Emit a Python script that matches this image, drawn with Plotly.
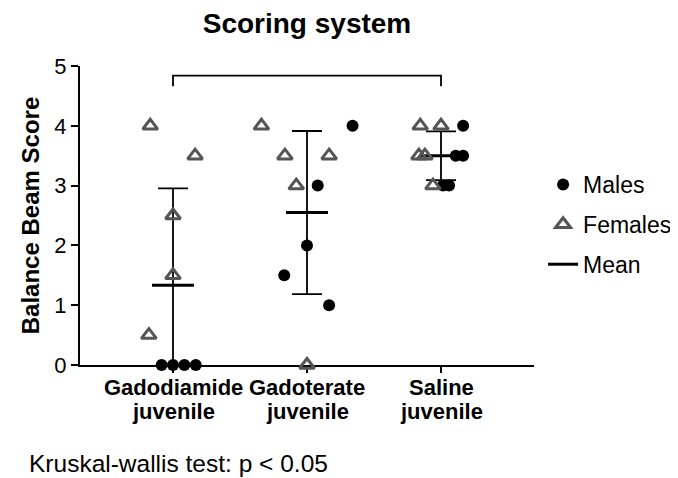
import numpy as np
import plotly.graph_objects as go

# ---- data ----
categories = ["Gadodiamide juvenile", "Gadoterate juvenile", "Saline juvenile"]
male_scores = [[0, 0, 0, 0], [4, 3, 2, 1.5, 1], [4, 3.5, 3.5, 3, 3]]
female_scores = [[4, 3.5, 2.5, 1.5, 0.5], [4, 3.5, 3.5, 3, 0], [4, 4, 3.5, 3.5, 3]]
# horizontal scatter offsets (as in the original scatter-dot plot)
male_jitter = [[-0.085, 0, 0.085, 0.17], [0.34, 0.08, 0, -0.17, 0.165], [0.165, 0.11, 0.165, 0.015, 0.06]]
female_jitter = [[-0.17, 0.165, 0, 0, -0.18], [-0.34, -0.165, 0.165, -0.08, 0], [-0.155, 0, -0.165, -0.12, -0.06]]
y_ticks = [0, 1, 2, 3, 4, 5]

pos = list(range(len(categories)))

mx, my, fx, fy = [], [], [], []
for i in pos:
    mx += [i + j for j in male_jitter[i]]
    my += male_scores[i]
    fx += [i + j for j in female_jitter[i]]
    fy += female_scores[i]

means, sds = [], []
for i in pos:
    vals = np.array(male_scores[i] + female_scores[i], dtype=float)
    means.append(vals.mean())
    sds.append(vals.std(ddof=1))

fig = go.Figure()

# SD error bars + mean line
fig.add_trace(go.Scatter(
    x=pos, y=means, mode="markers", showlegend=False, cliponaxis=True,
    marker=dict(symbol="line-ew", size=30, line=dict(width=3, color="black"), color="black"),
    error_y=dict(type="data", array=sds, visible=True, color="black", thickness=1.8, width=15),
    hoverinfo="skip",
))

fig.add_trace(go.Scatter(
    x=mx, y=my, mode="markers", name="Males", cliponaxis=False, legendgroup="m",
    marker=dict(symbol="circle", size=12, color="black"),
))
fig.add_trace(go.Scatter(
    x=fx, y=fy, mode="markers", name="Females", cliponaxis=False, legendgroup="f",
    marker=dict(symbol="triangle-up-open", size=13, color="#555555", line=dict(width=3, color="#555555")),
))
fig.add_trace(go.Scatter(
    x=[None], y=[None], mode="lines", name="Mean", legendgroup="mean",
    line=dict(color="black", width=3),
))

# category labels (two tight lines)
for i, c in zip(pos, categories):
    first, second = c.rsplit(" ", 1)
    for txt, shift in ((first, -22), (second, -46)):
        fig.add_annotation(x=i, y=0, xref="x", yref="paper", yshift=shift, text="<b>%s</b>" % txt,
                           showarrow=False, xanchor="center", yanchor="middle",
                           font=dict(family="Arial", size=22, color="black"))

# significance bracket
fig.add_shape(type="path", path="M 0,4.66 L 0,4.84 L 2,4.84 L 2,4.66",
              xref="x", yref="y", line=dict(color="black", width=1.8))
fig.add_annotation(x=1, y=5.12, xref="x", yref="y", text="*", showarrow=False,
                   font=dict(family="Arial", size=21, color="black"))

fig.add_annotation(x=-0.117, y=-0.331, xref="paper", yref="paper", xanchor="left", yanchor="middle",
                   text="Kruskal-wallis test: p < 0.05", showarrow=False,
                   font=dict(family="Arial", size=24.5, color="black"))

# page body has an 8px margin: figure is 670x470 placed at (8,8)
fig.update_layout(
    width=670, height=470,
    margin=dict(l=72, r=144, t=58, b=113, autoexpand=False),
    paper_bgcolor="white", plot_bgcolor="white",
    font=dict(family="Arial", color="black"),
    title=dict(text="<b>Scoring system</b>", x=0.5, xref="paper", xanchor="center",
               y=0.968, yref="container", yanchor="middle",
               font=dict(family="Arial", size=28, color="black")),
    xaxis=dict(range=[-0.694, 2.694], tickvals=pos, showticklabels=False,
               showline=True, linecolor="black", linewidth=2, ticks="outside", ticklen=6, tickwidth=2,
               tickcolor="black", showgrid=False, zeroline=False, layer="below traces", automargin=False),
    yaxis=dict(range=[0, 5], tickvals=y_ticks, showline=True, linecolor="black", linewidth=2,
               ticks="outside", ticklen=7, tickwidth=2, tickcolor="black", showgrid=False,
               zeroline=False, layer="below traces", automargin=False,
               tickfont=dict(family="Arial", size=22, color="black"),
               tickprefix="<b>", ticksuffix="</b>",
               title=dict(text="<b>Balance Beam Score</b>", font=dict(family="Arial", size=24, color="black"),
                          standoff=8)),
    legend=dict(x=1.02, y=0.47, xanchor="left", yanchor="middle", tracegroupgap=7,
                font=dict(family="Arial", size=23, color="black"), bgcolor="rgba(0,0,0,0)"),
    showlegend=True,
)

fig.write_html("out.html")
